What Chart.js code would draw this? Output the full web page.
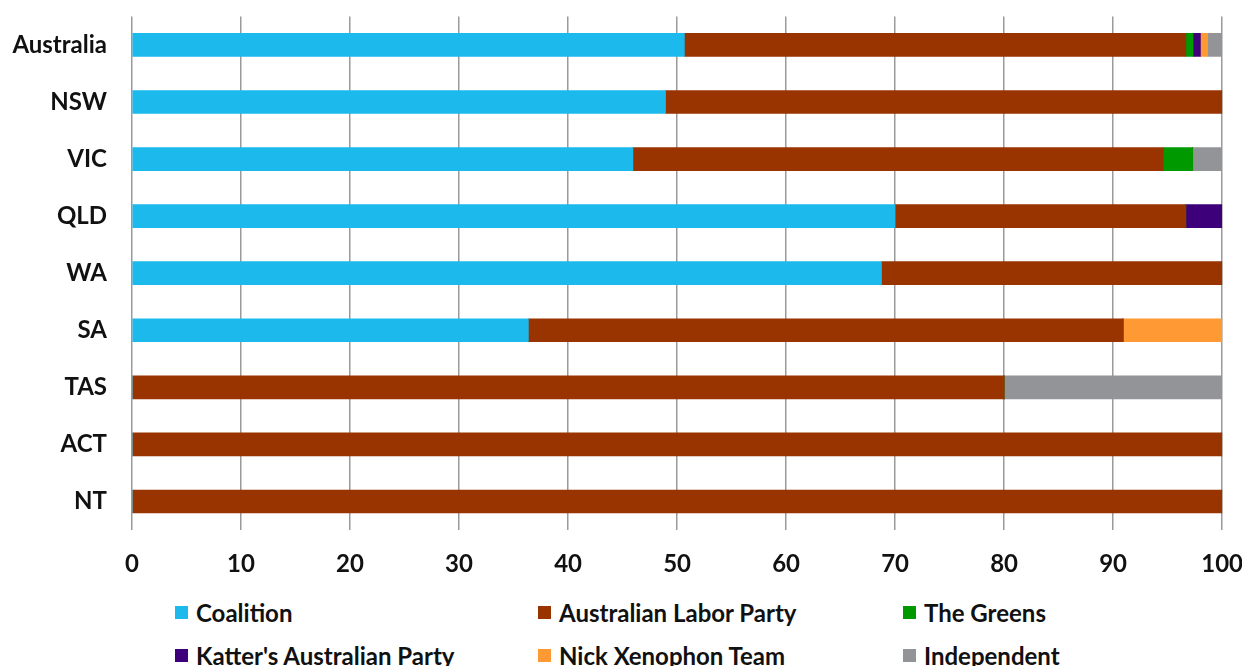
<!DOCTYPE html>
<html>
<head>
<meta charset="utf-8">
<script src="https://cdn.jsdelivr.net/npm/chart.js@4"></script>
<style>
  html, body { margin: 0; padding: 0; background: #fff; overflow: hidden; width: 1242px; height: 666px; }
  #wrap { position: absolute; left: 0; top: -15px; width: 1263px; height: 605px; }
  #legend { position: absolute; left: 0; top: 598px; width: 1242px; font-family: Lato, sans-serif;
            font-weight: bold; font-size: 24px; color: #111; }
  .item { position: absolute; display: flex; align-items: center; white-space: nowrap; }
  .sw { width: 13px; height: 13px; margin-right: 8px; }
</style>
</head>
<body>
<div id="wrap"><canvas id="myChart"></canvas></div>
<div id="legend"></div>
<script>
const regions = ['Australia', 'NSW', 'VIC', 'QLD', 'WA', 'SA', 'TAS', 'ACT', 'NT'];

const coalition   = [50.67, 48.94, 45.95, 70.00, 68.75, 36.36, 0, 0, 0];
const labor       = [46.00, 51.06, 48.65, 26.67, 31.25, 54.55, 80, 100, 100];
const greens      = [0.67, 0, 2.70, 0, 0, 0, 0, 0, 0];
const katter      = [0.67, 0, 0, 3.33, 0, 0, 0, 0, 0];
const xenophon    = [0.67, 0, 0, 0, 0, 9.09, 0, 0, 0];
const independent = [1.33, 0, 2.70, 0, 0, 0, 20, 0, 0];

const xTicks = [0, 10, 20, 30, 40, 50, 60, 70, 80, 90, 100];

const series = [
  { label: 'Coalition', data: coalition, color: '#1bb9ec' },
  { label: 'Australian Labor Party', data: labor, color: '#993300' },
  { label: 'The Greens', data: greens, color: '#009900' },
  { label: "Katter's Australian Party", data: katter, color: '#3d007a' },
  { label: 'Nick Xenophon Team', data: xenophon, color: '#ff9933' },
  { label: 'Independent', data: independent, color: '#929497' },
];

const tickFont = { family: 'Lato, sans-serif', size: 24, weight: 'bold' };

const data = {
  labels: regions,
  datasets: series.map(s => ({
    label: s.label,
    data: s.data,
    backgroundColor: s.color,
    borderWidth: 0,
    barThickness: 23,
  })),
};

const config = {
  type: 'bar',
  data,
  options: {
    indexAxis: 'y',
    responsive: true,
    maintainAspectRatio: false,
    animation: false,
    layout: { padding: 0 },
    plugins: { legend: { display: false }, tooltip: { enabled: false } },
    scales: {
      x: {
        stacked: true,
        min: 0,
        max: 100,
        afterBuildTicks: (scale) => { scale.ticks = xTicks.map(v => ({ value: v })); },
        afterFit: (scale) => { scale.height = 60; },
        ticks: { color: '#111', font: tickFont, padding: 20 },
        grid: { color: '#9a9a9a', lineWidth: 1.5, drawTicks: false },
        border: { display: false },
      },
      y: {
        stacked: true,
        afterFit: (scale) => { scale.width = 132; },
        ticks: { color: '#111', font: tickFont, padding: 17 },
        grid: { display: false },
        border: { display: false },
      },
    },
  },
};

document.addEventListener('DOMContentLoaded', () => {
  const canvas = document.getElementById('myChart');
  new Chart(canvas.getContext('2d'), config);

  // legend laid out in three columns like the original
  const cols = [175, 538, 903];
  const rows = [0, 43];
  const legend = document.getElementById('legend');
  series.forEach((s, i) => {
    const el = document.createElement('div');
    el.className = 'item';
    el.style.left = cols[i % 3] + 'px';
    el.style.top = rows[Math.floor(i / 3)] + 'px';
    el.innerHTML = `<span class="sw" style="background:${s.color}"></span>${s.label}`;
    legend.appendChild(el);
  });
});
</script>
</body>
</html>
